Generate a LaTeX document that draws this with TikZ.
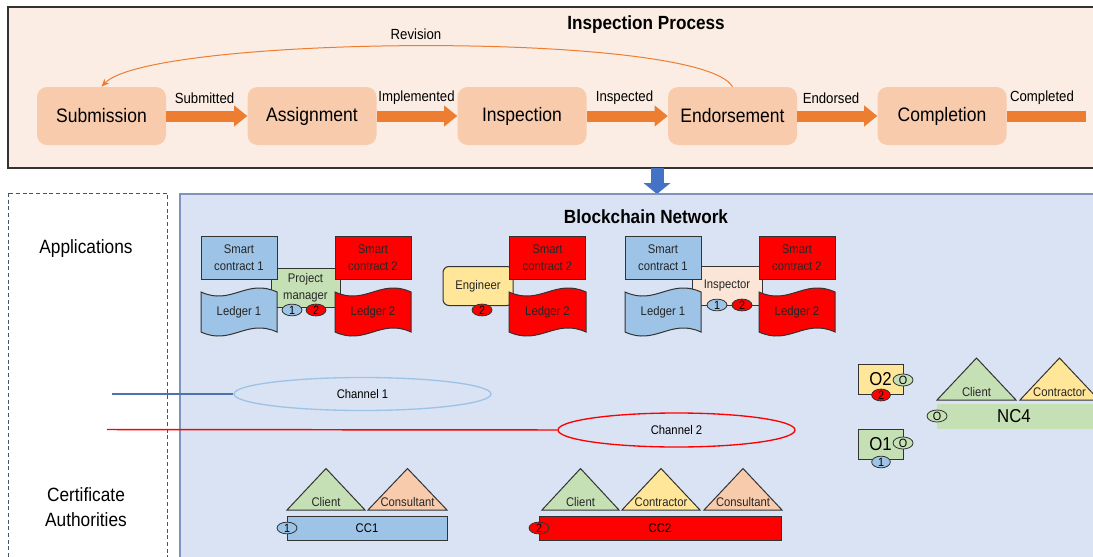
\documentclass[tikz,border=0pt]{standalone}
\usepackage{fontspec}
\setmainfont{Liberation Sans}[FakeStretch=0.9]
\usetikzlibrary{arrows.meta,shapes.geometric}
\definecolor{procfill}{HTML}{F8CBAD}
\definecolor{procbg}{HTML}{FBEDE3}
\definecolor{orng}{HTML}{ED7D31}
\definecolor{bcbg}{HTML}{DAE3F3}
\definecolor{bcedge}{HTML}{7F93BC}
\definecolor{lblue}{HTML}{9DC3E6}
\definecolor{lgreen}{HTML}{C5E0B4}
\definecolor{lyellow}{HTML}{FFE699}
\definecolor{lpeach}{HTML}{FBE5D6}
\definecolor{darrow}{HTML}{4472C4}
\definecolor{dashc}{HTML}{44546A}
\definecolor{chblue}{HTML}{4F71AE}
\definecolor{lred}{HTML}{FF0000}
\tikzset{
  procbox/.style={rounded corners=7.5pt, fill=procfill, minimum width=96.75pt, minimum height=43.5pt, inner sep=0pt, font=\fontsize{14.6}{17}\selectfont},
  proclabel/.style={font=\fontsize{11}{13}\selectfont, inner sep=0pt},
  procarrow/.style={draw=orng, line width=8.25pt, -{Triangle[width=15.75pt,length=9.75pt,line width=0pt]}},
  smalltext/.style={font=\fontsize{9.4}{12.75}\selectfont, inner sep=0pt, align=center, text=black!85},
  scbox/.style={draw=black!80, line width=0.75pt, minimum width=57pt, minimum height=32.25pt, inner sep=0pt, align=center, font=\fontsize{9.4}{12.75}\selectfont, text=black!85},
  rolebox/.style={draw=black!80, line width=0.75pt, minimum width=52.5pt, minimum height=29.25pt, inner sep=0pt, align=center, font=\fontsize{9.4}{12.75}\selectfont, text=black!85},
  token/.style={ellipse, draw=black!80, line width=0.6pt, minimum width=15pt, minimum height=8.5pt, inner sep=0pt, font=\fontsize{9}{9}\selectfont},
  wavestyle/.style={draw=black!80, line width=0.75pt},
  tristyle/.style={draw=black!80, line width=0.75pt, line join=miter},
  bigtext/.style={font=\fontsize{14.4}{18.75}\selectfont, align=center, inner sep=0pt},
  titletext/.style={font=\fontsize{14.3}{17}\selectfont\bfseries, inner sep=0pt},
  ccbox/.style={draw=black!80, line width=0.75pt, minimum height=18pt, inner sep=0pt, font=\fontsize{9.4}{12}\selectfont},
  obox/.style={draw=black!80, line width=0.75pt, minimum width=33.75pt, minimum height=22.5pt, inner sep=0pt, font=\fontsize{14}{16}\selectfont},
}
\newcommand{\ledgerwave}[7]{%
  \draw[wavestyle, fill=#6] (#2,#4) .. controls ({#2+0.4*(#3-#2)},{#4+14}) and ({#2+0.6*(#3-#2)},{#4-14}) .. (#3,#4)
    -- (#3,#5) .. controls ({#2+0.6*(#3-#2)},{#5-14}) and ({#2+0.4*(#3-#2)},{#5+14}) .. (#2,#5) -- cycle;
  \node[smalltext] (#1) at ({(#2+#3)/2},{(#4+#5)/2}) {#7};
}
\newcommand{\catri}[7]{%
  \draw[tristyle, fill=#6] (#2,#4) -- (#3,#4) -- ({(#2+#3)/2},#5) -- cycle;
  \node[smalltext] (#1) at ({(#2+#3)/2},{#4-8}) {#7};
}
\begin{document}
\begin{tikzpicture}[x=0.75pt,y=-0.75pt]
\useasboundingbox (0,0) rectangle (1093,557);
\fill[white] (0,0) rectangle (1093,557);

% ---------- Inspection process ----------
\draw[draw=black!80, line width=0.9pt, fill=procbg] (8,7) rectangle (1105,168);
\node[titletext] (ptitle) at (646,25) {Inspection Process};

\node[procbox] (sub) at (101.5,116) {Submission};
\node[procbox] (asg) at (312,116) {Assignment};
\node[procbox] (ins) at (522,116) {Inspection};
\node[procbox] (end) at (732.5,116) {Endorsement};
\node[procbox] (cmp) at (942,116) {Completion};
\coordinate (cmpend) at (1086,116);

\draw[procarrow] (sub.east) -- (asg.west);
\draw[procarrow] (asg.east) -- (ins.west);
\draw[procarrow] (ins.east) -- (end.west);
\draw[procarrow] (end.east) -- (cmp.west);
\draw[draw=orng, line width=8.25pt] (cmp.east) -- (cmpend);

\node[proclabel] (l1) at (204.5,98) {Submitted};
\node[proclabel] (l2) at (416.5,98) {Implemented};
\node[proclabel] (l3) at (624.5,98) {Inspected};
\node[proclabel] (l4) at (831,98) {Endorsed};
\node[proclabel] (l5) at (1042,98) {Completed};

\draw[draw=orng, line width=0.75pt, -{Stealth[length=6pt,width=5pt]}] (end.north) .. controls (700,30) and (150,35) .. (sub.north);
\node[proclabel] (rev) at (416,34) {Revision};

% ---------- blue arrow ----------
\coordinate (ba1) at (657,168);
\coordinate (ba2) at (657,194);
\draw[draw=darrow, line width=9.75pt, -{Triangle[width=20.25pt,length=8.25pt,line width=0pt]}] (ba1) -- (ba2);

% ---------- lower area ----------
\draw[dashc, line width=0.75pt, dash pattern=on 3pt off 2pt] (8,193) rectangle (167,570);
\draw[draw=bcedge, line width=1.1pt, fill=bcbg] (180,194) rectangle (1105,570);

\node[bigtext] (apps) at (86,249) {Applications};
\node[bigtext] (cas) at (86,507) {Certificate\\Authorities};
\node[titletext] (btitle) at (646,217) {Blockchain Network};

% group 1
\node[rolebox, fill=lgreen, minimum width=51.75pt] (pm) at (305.5,287.5) {Project\\manager};
\node[scbox, fill=lblue] (sc1a) at (239,257.5) {Smart\\contract 1};
\node[scbox, fill=lred] (sc2a) at (373,257.5) {Smart\\contract 2};
\ledgerwave{lg1a}{201}{277}{292}{332}{lblue}{Ledger 1}
\ledgerwave{lg2a}{335}{411}{292}{332}{lred}{Ledger 2}
\node[token, fill=lblue] (t1a) at (292,310) {1};
\node[token, fill=lred] (t2a) at (316,310) {2};

% group 2
\node[rolebox, fill=lyellow, rounded corners=4.5pt] (eng) at (478,286) {Engineer};
\node[scbox, fill=lred] (sc2b) at (547.5,257.5) {Smart\\contract 2};
\ledgerwave{lg2b}{509}{586}{292}{332}{lred}{Ledger 2}
\node[token, fill=lred] (t2b) at (482,310) {2};

% group 3
\node[rolebox, fill=lpeach] (insp) at (727,285.5) {Inspector};
\node[scbox, fill=lblue] (sc1c) at (663,257.5) {Smart\\contract 1};
\node[scbox, fill=lred] (sc2c) at (797,257.5) {Smart\\contract 2};
\ledgerwave{lg1c}{625}{701}{292}{332}{lblue}{Ledger 1}
\ledgerwave{lg2c}{759}{835}{292}{332}{lred}{Ledger 2}
\node[token, fill=lblue] (t1c) at (717,305) {1};
\node[token, fill=lred] (t2c) at (742,305) {2};

% channels
\node[ellipse, draw=lblue, line width=1pt, minimum width=192.75pt, minimum height=24.75pt, inner sep=0pt, font=\fontsize{9.4}{12}\selectfont] (ch1) at (362.5,394) {Channel 1};
\node[ellipse, draw=lred, line width=1pt, minimum width=177.75pt, minimum height=25.5pt, inner sep=0pt, font=\fontsize{9.4}{12}\selectfont] (ch2) at (676.5,430) {Channel 2};
\coordinate (ch1l) at (112,394);
\coordinate (ch2l) at (107,429.5);
\draw[chblue, line width=1.1pt] (ch1l) -- (ch1.west);
\draw[lred, line width=1.1pt] (ch2l) -- (ch2.west);

% CC1
\catri{c1cl}{287}{365}{510}{468.5}{lgreen}{Client}
\catri{c1co}{368}{447}{510}{468.5}{procfill}{Consultant}
\node[ccbox, fill=lblue, minimum width=120pt] (cc1) at (367,528) {CC1};
\node[token, fill=lblue] (tc1) at (287,528) {1};

% CC2
\catri{c2cl}{542}{619}{510}{468.5}{lgreen}{Client}
\catri{c2ct}{622}{700}{510}{468.5}{lyellow}{Contractor}
\catri{c2co}{704}{782}{510}{468.5}{procfill}{Consultant}
\node[ccbox, fill=lred, minimum width=181.5pt] (cc2) at (660,528) {CC2};
\node[token, fill=lred] (tc2) at (539,528) {2};

% orderers
\node[obox, fill=lyellow] (o2) at (880.5,379) {O2};
\node[token, fill=lgreen] (o2o) at (903,380) {O};
\node[token, fill=lred, minimum width=14pt, minimum height=8pt] (o22) at (881,395) {2};
\node[obox, fill=lgreen] (o1) at (880.5,444) {O1};
\node[token, fill=lgreen] (o1o) at (903,443) {O};
\node[token, fill=lblue, minimum width=14pt, minimum height=8pt] (o11) at (881,462) {1};

% NC4
\catri{n4cl}{937}{1016}{400}{358}{lgreen}{Client}
\catri{n4ct}{1020}{1099}{400}{358}{lyellow}{Contractor}
\node[fill=lgreen, minimum width=122.25pt, minimum height=18.75pt, inner sep=0pt, font=\fontsize{14}{16}\selectfont] (nc4) at (1018,416.5) {\hspace*{-2pt}NC4\hspace*{4pt}};
\node[token, fill=lgreen] (n4o) at (937,416) {O};
\end{tikzpicture}
\end{document}
